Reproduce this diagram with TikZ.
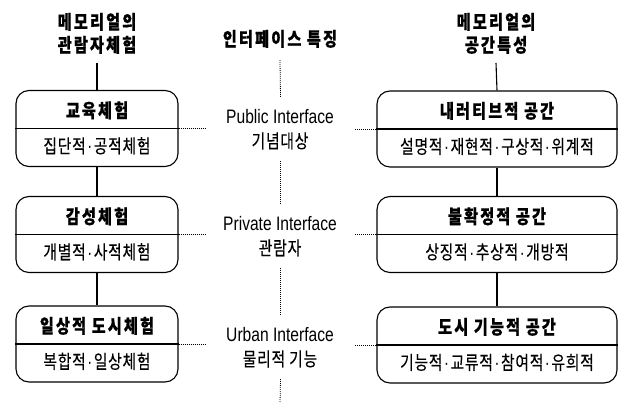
\documentclass[tikz,border=0pt]{standalone}
\usepackage{graphicx}
\usepackage{fontspec}
\setmainfont{Liberation Sans}
\newfontfamily\krr[LetterSpace=5,FakeBold=0.25]{Noto Sans CJK KR}
\newfontfamily\krbb[LetterSpace=14,BoldFeatures={FakeBold=0.6}]{Noto Sans CJK KR}
\newcommand\Kr[1]{\scalebox{0.78}[1]{\krr\fontsize{19}{21}\selectfont #1}}
\newcommand\Kb[1]{\scalebox{0.8}[1]{\krbb\bfseries\fontsize{19}{21}\selectfont #1}}
\newcommand\La[1]{\scalebox{0.8}[1]{\fontsize{19.5}{22}\selectfont #1}}
\newcommand\md{{\hspace{2pt}\rmfamily·\hspace{2pt}}}
\tikzset{
  txt/.style={inner sep=0pt, anchor=base},
  lbox/.style={draw, line width=1.1pt, rounded corners=13pt, minimum width=162pt, minimum height=76pt, inner sep=0pt},
  rbox/.style={lbox, minimum width=240pt},
  iframe/.style={inner sep=0pt, minimum width=149pt, minimum height=63pt},
  solidline/.style={line width=1.1pt},
  dotline/.style={line width=0.8pt, dash pattern=on 0.8pt off 1.2pt},
}
\begin{document}
\begin{tikzpicture}[x=1pt,y=-1pt]
\useasboundingbox (0,0) rectangle (623,403);
% headers
\node[txt] (hl1) at (97,29) {\Kb{메모리얼의}};
\node[txt] (hl2) at (97,52) {\Kb{관람자체험}};
\node[txt] (hc) at (280,46) {\Kb{인터페이스 특징}};
\node[txt] (hr1) at (496,29) {\Kb{메모리얼의}};
\node[txt] (hr2) at (496,52) {\Kb{공간특성}};
\coordinate (lt) at (97,63);
\coordinate (rt) at (496,63);
\coordinate (ct) at (280,60);
\coordinate (cb) at (280,403);
% left boxes
\foreach \i/\y/\t/\s in {1/128.5/교육체험/집단적\md 공적체험, 2/234.5/감성체험/개별적\md 사적체험, 3/344/일상적 도시체험/복합적\md 일상체험}{
  \node[lbox] (lb\i) at (97,\y) {};
  \draw[solidline] (lb\i.west) -- (lb\i.east);
  \node[txt] (lt\i) at (97,\y-11) {\Kb{\t}};
  \node[txt] (ls\i) at (97,\y+24.5) {\Kr{\s}};
}
% right boxes
\foreach \i/\y/\t/\s in {1/129/내러티브적 공간/설명적\md 재현적\md 구상적\md 위계적, 2/234.5/불확정적 공간/상징적\md 추상적\md 개방적, 3/345/도시 기능적 공간/기능적\md 교류적\md 참여적\md 유희적}{
  \node[rbox] (rb\i) at (497,\y) {};
  \draw[solidline] (rb\i.west) -- (rb\i.east);
  \node[txt] (rt\i) at (497,\y-11) {\Kb{\t}};
  \node[txt] (rs\i) at (497,\y+24.5) {\Kr{\s}};
}
% interfaces
\foreach \i/\y/\a/\b in {1/129.5/Public Interface/기념대상, 2/236.5/Private Interface/관람자, 3/347.5/Urban Interface/물리적 기능}{
  \node[iframe] (ci\i) at (280.5,\y) {};
  \node[txt] (ca\i) at (280,\y-6) {\La{\a}};
  \node[txt] (cb\i) at (280,\y+18.5) {\Kr{\b}};
}
% connectors
\draw[solidline] (lt) -- (lb1.north);
\draw[solidline] (lb1.south) -- (lb2.north);
\draw[solidline] (lb2.south) -- (lb3.north);
\draw[solidline] (rt) -- (rb1.north);
\draw[solidline] (rb1.south) -- (rb2.north);
\draw[solidline] (rb2.south) -- (rb3.north);
\draw[dotline] (ct) -- (ci1.north);
\draw[dotline] (ci1.south) -- (ci2.north);
\draw[dotline] (ci2.south) -- (ci3.north);
\draw[dotline] (ci3.south) -- (cb);
\foreach \i in {1,2,3}{
  \draw[dotline] (lb\i.east) -- (lb\i.east -| ci\i.west);
  \draw[dotline] (rb\i.west -| ci\i.east) -- (rb\i.west);
}
\end{tikzpicture}
\end{document}
